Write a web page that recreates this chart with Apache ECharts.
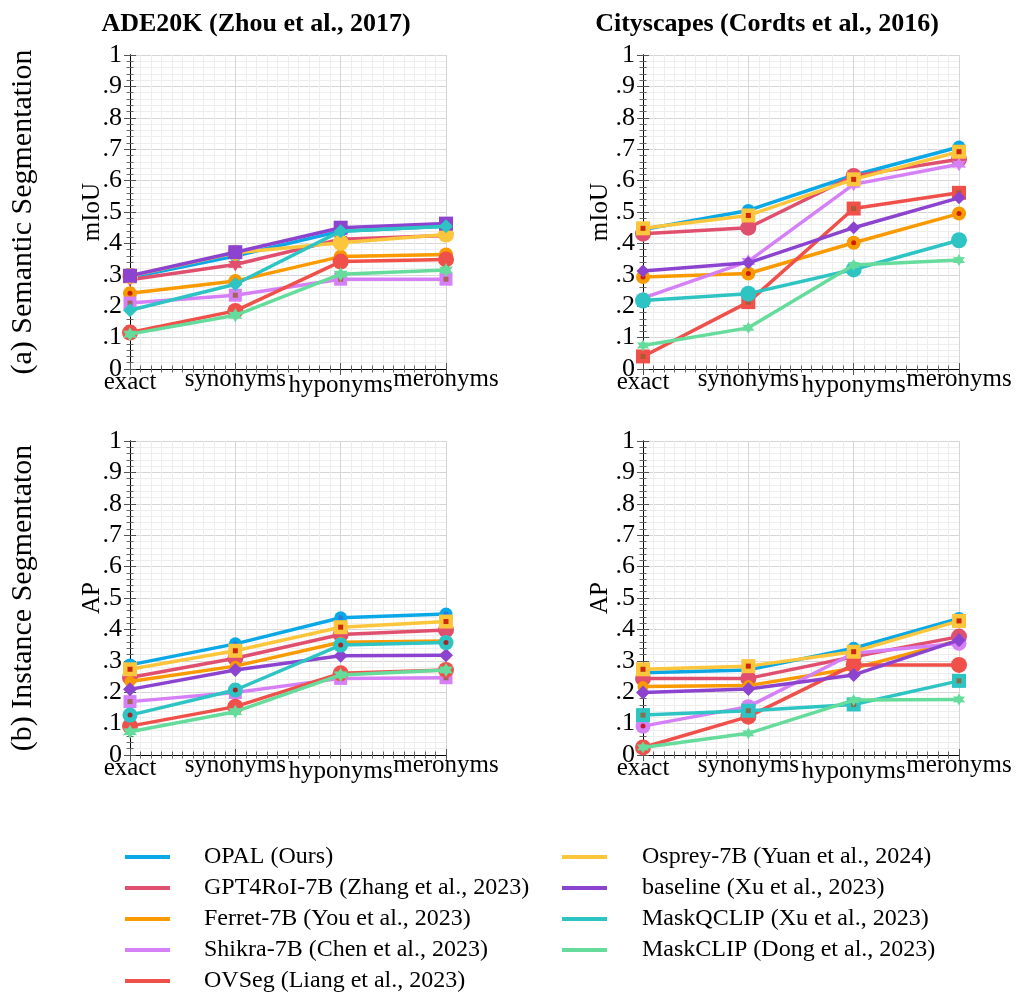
<!DOCTYPE html>
<html><head><meta charset="utf-8">
<script src="https://cdn.jsdelivr.net/npm/echarts@6/dist/echarts.min.js"></script>
<style>html,body{margin:0;padding:0;background:#fff}#c{width:1016px;height:994px}</style>
</head><body><div id="c"></div>
<script>
// ---------- data ----------
const categories = ['exact', 'synonyms', 'hyponyms', 'meronyms'];
const methods = ['OPAL (Ours)', 'GPT4RoI-7B (Zhang et al., 2023)', 'Ferret-7B (You et al., 2023)',
  'Shikra-7B (Chen et al., 2023)', 'OVSeg (Liang et al., 2023)', 'Osprey-7B (Yuan et al., 2024)',
  'baseline (Xu et al., 2023)', 'MaskQCLIP (Xu et al., 2023)', 'MaskCLIP (Dong et al., 2023)'];
const yTickLabels = ['0', '.1', '.2', '.3', '.4', '.5', '.6', '.7', '.8', '.9', '1'];
const panelTitles = ['ADE20K (Zhou et al., 2017)', 'Cityscapes (Cordts et al., 2016)'];
const rowLabels = ['(a) Semantic Segmentation', '(b) Instance Segmentaton'];
const yNames = ['mIoU', 'AP'];

// rows follow `methods` order
const ade20kSemanticMIoU = [
  [0.291, 0.360, 0.439, 0.455],
  [0.284, 0.333, 0.413, 0.425],
  [0.241, 0.280, 0.358, 0.365],
  [0.210, 0.235, 0.286, 0.286],
  [0.116, 0.185, 0.342, 0.349],
  [0.296, 0.370, 0.402, 0.428],
  [0.297, 0.372, 0.450, 0.463],
  [0.187, 0.270, 0.439, 0.455],
  [0.111, 0.171, 0.302, 0.315]
];
const cityscapesSemanticMIoU = [
  [0.444, 0.505, 0.617, 0.707],
  [0.431, 0.450, 0.615, 0.668],
  [0.293, 0.304, 0.402, 0.495],
  [0.226, 0.343, 0.588, 0.652],
  [0.040, 0.213, 0.511, 0.561],
  [0.448, 0.489, 0.604, 0.692],
  [0.312, 0.338, 0.450, 0.545],
  [0.218, 0.240, 0.317, 0.410],
  [0.075, 0.131, 0.331, 0.347]
];
const ade20kInstanceAP = [
  [0.287, 0.354, 0.437, 0.449],
  [0.247, 0.308, 0.384, 0.398],
  [0.234, 0.283, 0.359, 0.363],
  [0.170, 0.199, 0.244, 0.246],
  [0.092, 0.154, 0.260, 0.271],
  [0.273, 0.332, 0.407, 0.425],
  [0.209, 0.271, 0.316, 0.318],
  [0.127, 0.207, 0.350, 0.358],
  [0.074, 0.138, 0.255, 0.271]
];
const cityscapesInstanceAP = [
  [0.262, 0.271, 0.340, 0.435],
  [0.244, 0.244, 0.313, 0.377],
  [0.218, 0.221, 0.276, 0.365],
  [0.092, 0.154, 0.324, 0.356],
  [0.024, 0.122, 0.287, 0.287],
  [0.273, 0.283, 0.329, 0.427],
  [0.199, 0.210, 0.255, 0.366],
  [0.127, 0.141, 0.161, 0.236],
  [0.024, 0.069, 0.175, 0.177]
];

// ---------- styles ----------
const colors = ['#0aa8e6', '#e0506e', '#f89a00', '#d680f8', '#f0504a', '#fcc63c', '#8c44d0', '#2ec4c4', '#66dc9c'];
const STAR = 'path://M0,-10 L2.75,-4.76 L8.66,-5 L5.5,0 L8.66,5 L2.75,4.76 L0,10 L-2.75,4.76 L-8.66,5 L-5.5,0 L-8.66,-5 L-2.75,-4.76 Z';
const RED = '#c00000', BROWN = '#9a5b2e', DBLUE = '#2f6fd6';
const markerSets = [
  [['circle', 12, null], ['star', 14, null], ['circle', 14, RED], ['rect', 13, BROWN], ['circle', 16, null], ['circle', 16, null], ['rect', 14, null], ['diamond', 14, null], ['star', 14, null]],
  [['circle', 13, null], ['circle', 16, null], ['circle', 14, RED], ['star', 14, null], ['rect', 14, BROWN], ['rect', 14, RED], ['diamond', 13, null], ['circle', 16, null], ['star', 12, null]],
  [['circle', 13, DBLUE], ['circle', 16, null], ['circle', 11, null], ['rect', 13, BROWN], ['circle', 16, null], ['rect', 14, RED], ['diamond', 14, null], ['circle', 15, RED], ['star', 14, null]],
  [['circle', 13, null], ['circle', 16, null], ['circle', 11, null], ['circle', 15, RED], ['circle', 16, null], ['rect', 14, RED], ['diamond', 14, null], ['rect', 14, BROWN], ['star', 12, null]]
];
const panelData = [ade20kSemanticMIoU, cityscapesSemanticMIoU, ade20kInstanceAP, cityscapesInstanceAP];
const gridPos = [
  {left: 130, top: 55, width: 316, height: 314},
  {left: 643, top: 55, width: 316, height: 314},
  {left: 130, top: 441, width: 316, height: 314},
  {left: 643, top: 441, width: 316, height: 314}
];
const FONT = 'Liberation Serif';
const tickStyle = {show: true, inside: true, length: 6, lineStyle: {color: '#555', width: 1}};
const minorTickBase = {show: true, length: 3.5, lineStyle: {color: '#666', width: 1}};
const axisLineStyle = {show: true, lineStyle: {color: '#000', width: 1}};

const grids = [], xAxes = [], yAxes = [], series = [];
gridPos.forEach((g, p) => {
  grids.push(Object.assign({outerBoundsMode: 'none', containLabel: false}, g));
  const rich = {};
  const lh = [31, 25, 37, 25];
  categories.forEach((c, i) => { rich['c' + i] = {fontFamily: FONT, fontSize: 25, color: '#000', lineHeight: lh[i]}; });
  xAxes.push({
    type: 'value', gridIndex: p, position: 'bottom', min: 0, max: 3, interval: 1,
    axisLine: axisLineStyle, axisTick: tickStyle,
    minorTick: Object.assign({splitNumber: 10}, minorTickBase),
    splitLine: {show: true, lineStyle: {color: '#d6d6d6', width: 1}},
    minorSplitLine: {show: true, lineStyle: {color: '#eeeeee', width: 1}},
    axisLabel: {
      show: true, margin: -2, verticalAlign: 'top',
      formatter: v => { const i = Math.round(v); return '{c' + i + '|' + categories[i] + '}'; },
      rich: rich
    }
  });
  xAxes.push({
    type: 'value', gridIndex: p, position: 'top', min: 0, max: 3, interval: 1,
    axisLine: axisLineStyle, axisTick: tickStyle,
    minorTick: Object.assign({splitNumber: 10}, minorTickBase),
    splitLine: {show: false}, axisLabel: {show: false}
  });
  yAxes.push({
    type: 'value', gridIndex: p, position: 'left', min: 0, max: 1, interval: 0.1,
    axisLine: axisLineStyle, axisTick: tickStyle,
    minorTick: Object.assign({splitNumber: 5}, minorTickBase),
    splitLine: {show: true, lineStyle: {color: '#d6d6d6', width: 1}},
    minorSplitLine: {show: true, lineStyle: {color: '#eeeeee', width: 1}},
    axisLabel: {show: true, margin: 8, fontFamily: FONT, fontSize: 26, color: '#000',
      formatter: v => yTickLabels[Math.round(v * 10)]},
    name: yNames[p < 2 ? 0 : 1], nameLocation: 'middle', nameRotate: 90,
    nameGap: p % 2 === 0 ? 25 : 30, nameMoveOverlap: false,
    nameTextStyle: {fontFamily: FONT, fontSize: 25, color: '#000'}
  });
  yAxes.push({
    type: 'value', gridIndex: p, position: 'right', min: 0, max: 1, interval: 0.1,
    axisLine: axisLineStyle, axisTick: tickStyle,
    minorTick: Object.assign({splitNumber: 5}, minorTickBase),
    splitLine: {show: false}, axisLabel: {show: false}
  });
  const data = panelData[p];
  methods.forEach((m, i) => {
    const mk = markerSets[p][i];
    const pts = data[i].map((v, j) => [j, v]);
    series.push({
      type: 'line', name: m, xAxisIndex: 2 * p, yAxisIndex: 2 * p, data: pts, z: 3 + 2 * i,
      symbol: mk[0] === 'star' ? STAR : mk[0], symbolSize: mk[1], showSymbol: true,
      lineStyle: {width: 3.5, color: colors[i]},
      itemStyle: {color: colors[i], borderWidth: 0},
      emphasis: {disabled: true}, silent: true
    });
    if (mk[2]) {
      series.push({
        type: 'scatter', name: m + ' •', xAxisIndex: 2 * p, yAxisIndex: 2 * p, data: pts, z: 4 + 2 * i,
        symbol: mk[0] === 'rect' ? 'rect' : 'circle', symbolSize: 5,
        itemStyle: {color: mk[2]}, emphasis: {disabled: true}, silent: true
      });
    }
  });
});

const legendText = {fontFamily: FONT, fontSize: 24, color: '#000', lineHeight: 24};
const option = {
  backgroundColor: '#fff',
  animation: false,
  grid: grids, xAxis: xAxes, yAxis: yAxes, series: series,
  title: [
    {text: panelTitles[0], left: 256, top: 11, textAlign: 'center', padding: 0,
      textStyle: {fontFamily: FONT, fontWeight: 'bold', fontSize: 26, color: '#000'}},
    {text: panelTitles[1], left: 767, top: 11, textAlign: 'center', padding: 0,
      textStyle: {fontFamily: FONT, fontWeight: 'bold', fontSize: 26, color: '#000'}}
  ],
  legend: [
    {data: methods.slice(0, 5), left: 125, top: 845, orient: 'vertical', icon: 'rect',
      itemWidth: 45, itemHeight: 4, itemGap: 7, padding: 0, selectedMode: false,
      textStyle: Object.assign({padding: [0, 0, 0, 29]}, legendText)},
    {data: methods.slice(5), left: 562, top: 845, orient: 'vertical', icon: 'rect',
      itemWidth: 45, itemHeight: 4, itemGap: 7, padding: 0, selectedMode: false,
      textStyle: Object.assign({padding: [0, 0, 0, 30]}, legendText)}
  ],
  graphic: [
    {type: 'text', x: 23, y: 212, rotation: Math.PI / 2,
      style: {text: rowLabels[0], font: '30px "Liberation Serif"', fill: '#000',
        textAlign: 'center', textVerticalAlign: 'middle', align: 'center', verticalAlign: 'middle'}},
    {type: 'text', x: 23, y: 598, rotation: Math.PI / 2,
      style: {text: rowLabels[1], font: '30px "Liberation Serif"', fill: '#000',
        textAlign: 'center', textVerticalAlign: 'middle', align: 'center', verticalAlign: 'middle'}}
  ]
};
const chart = echarts.init(document.getElementById('c'), null, {renderer: 'canvas'});
chart.setOption(option);
</script>
</body></html>
